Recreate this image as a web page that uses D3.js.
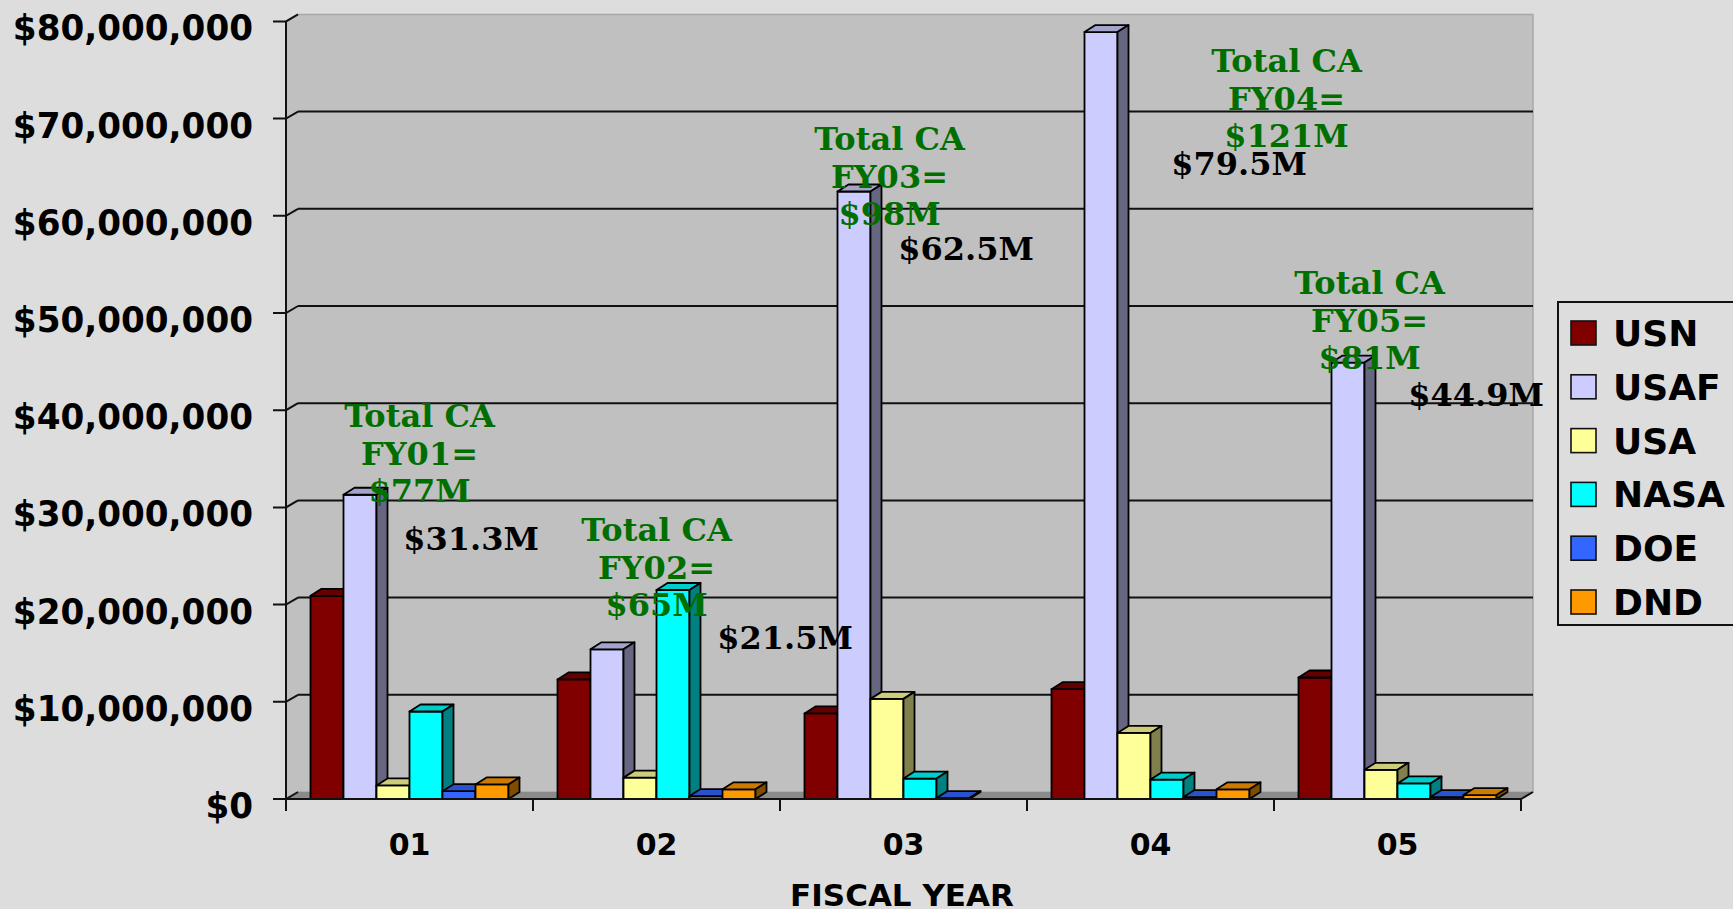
<!DOCTYPE html>
<html>
<head>
<meta charset="utf-8">
<script src="https://cdnjs.cloudflare.com/ajax/libs/d3/7.8.5/d3.min.js"></script>
<style>
	html, body { margin: 0; padding: 0; background: #dddddd; overflow: hidden; }
</style>
</head>
<body>
<svg class="chart" width="1733" height="909"></svg>
<script>
// data, dollars in millions
var years = [ "01", "02", "03", "04", "05" ];
var agencies = [ "USN", "USAF", "USA", "NASA", "DOE", "DND" ];
var usn  = [ 20.9, 12.3,  8.8, 11.3, 12.5 ];
var usaf = [ 31.3, 15.4, 62.5, 78.9, 44.9 ];
var usa  = [  1.4,  2.2, 10.3,  6.8,  3.0 ];
var nasa = [  9.0, 21.5,  2.1,  2.0,  1.6 ];
var doe  = [  0.8,  0.3,  0.1,  0.2,  0.2 ];
var dnd  = [  1.5,  1.0,  0.0,  1.0,  0.4 ];
var yTicks = [ 0, 10, 20, 30, 40, 50, 60, 70, 80 ];
var totals = [ "$77M", "$65M", "$98M", "$121M", "$81M" ];
var peaks = [ "$31.3M", "$21.5M", "$62.5M", "$79.5M", "$44.9M" ];

var seriesValues = [ usn, usaf, usa, nasa, doe, dnd ];

// face colours: front, top, side
var colorFront = [ "#800000", "#ccccff", "#ffff99", "#00ffff", "#3366ff", "#ff9900" ];
var colorTop   = [ "#650000", "#a3a3cc", "#cccc7a", "#00cccc", "#2952cc", "#cc7a00" ];
var colorSide  = [ "#400000", "#666680", "#80804d", "#008080", "#1a3380", "#804d00" ];

// where the free text boxes sit, offsets from the band centre
var noteDx = [ 10, 0, -14, 136, -28 ];
var noteY  = [ 427, 541, 150, 72, 294 ];
var peakX  = [ 471, 785, 966, 1239, 1476 ];
var peakY  = [ 550, 649, 260, 175, 406 ];

var svg = d3.select( ".chart" );

var plotLeft = 286, plotRight = 1521, plotBase = 799, plotTop = 21.4;
var wallDx = 12, wallDy = 7;
var barDx = 11, barDy = 7;

var x = d3.scaleBand()
	.domain( years )
	.range( [ plotLeft, plotRight ] );

var xInner = d3.scaleBand()
	.domain( agencies )
	.range( [ 24.5, x.bandwidth() - 24.5 ] );

var y = d3.scaleLinear()
	.domain( [ 0, 80 ] )
	.range( [ plotBase, plotTop ] );

// back wall and left wall
svg.append( "polygon" )
	.attr( "points", [ [ plotLeft, plotBase ], [ plotLeft, plotTop ], [ plotLeft + wallDx, plotTop - wallDy ],
		[ plotRight + wallDx, plotTop - wallDy ], [ plotRight + wallDx, plotBase - wallDy ], [ plotLeft + wallDx, plotBase - wallDy ] ].join( " " ) )
	.style( "fill", "#c0c0c0" )
	.style( "stroke", "#a8a8a8" )
	.style( "stroke-width", 1.5 );

// floor
svg.append( "polygon" )
	.attr( "points", [ [ plotLeft, plotBase ], [ plotLeft + wallDx, plotBase - wallDy ], [ plotRight + wallDx, plotBase - wallDy ], [ plotRight, plotBase ] ].join( " " ) )
	.style( "fill", "#8a8a8a" );

// gridlines on the back wall
svg.append( "g" )
	.attr( "class", "grid" )
	.selectAll( "line" )
	.data( yTicks.filter( function( d ) { return d > 0 && d < 80; } ) )
	.enter()
	.append( "line" )
		.attr( "x1", plotLeft + wallDx )
		.attr( "x2", plotRight + wallDx )
		.attr( "y1", function( d ) { return y( d ) - wallDy; } )
		.attr( "y2", function( d ) { return y( d ) - wallDy; } )
		.style( "stroke", "#111" )
		.style( "stroke-width", 2 );

// y axis with the little 3d kink on every tick
var yAxis = svg.append( "g" ).attr( "class", "y-axis" );

yAxis.append( "line" )
	.attr( "x1", plotLeft ).attr( "x2", plotLeft )
	.attr( "y1", plotTop ).attr( "y2", plotBase + 12 )
	.style( "stroke", "#111" ).style( "stroke-width", 2 );

yAxis.selectAll( ".tick" )
	.data( yTicks )
	.enter()
	.append( "path" )
		.attr( "class", "tick" )
		.attr( "d", function( d ) {
			return "M" + ( plotLeft - 13 ) + "," + y( d ) + "H" + plotLeft + "L" + ( plotLeft + wallDx ) + "," + ( y( d ) - wallDy );
		} )
		.style( "fill", "none" )
		.style( "stroke", "#111" )
		.style( "stroke-width", 2 );

yAxis.selectAll( "text" )
	.data( yTicks )
	.enter()
	.append( "text" )
		.attr( "x", 253 )
		.attr( "y", function( d ) { return y( d ) + 19; } )
		.attr( "text-anchor", "end" )
		.style( "font-family", "DejaVu Sans" )
		.style( "font-weight", "bold" )
		.style( "font-size", "36px" )
		.text( function( d ) { return "$" + d3.format( "," )( d * 1e6 ); } )
		.each( function() {
			// the original face is a little narrower than DejaVu
			var len = this.getComputedTextLength();
			d3.select( this )
				.attr( "textLength", len * 0.95 )
				.attr( "lengthAdjust", "spacingAndGlyphs" );
		} );

// bars, left to right so each front face hides the side before it
var bars = svg.append( "g" ).attr( "class", "bars" );

years.forEach( function( year, i ) {
	agencies.forEach( function( name, j ) {
		var v = seriesValues[ j ][ i ];
		if ( v <= 0 ) return;
		var x0 = x( year ) + xInner( name ),
			x1 = x0 + xInner.bandwidth(),
			y0 = y( v );
		var g = bars.append( "g" )
			.style( "stroke", "#000" )
			.style( "stroke-width", 1.8 )
			.style( "stroke-linejoin", "round" );
		g.append( "rect" )
			.attr( "x", x0 )
			.attr( "y", y0 )
			.attr( "width", x1 - x0 )
			.attr( "height", plotBase - y0 )
			.style( "fill", colorFront[ j ] );
		g.append( "polygon" )
			.attr( "points", [ [ x0, y0 ], [ x0 + barDx, y0 - barDy ], [ x1 + barDx, y0 - barDy ], [ x1, y0 ] ].join( " " ) )
			.style( "fill", colorTop[ j ] );
		g.append( "polygon" )
			.attr( "points", [ [ x1, y0 ], [ x1 + barDx, y0 - barDy ], [ x1 + barDx, plotBase - barDy ], [ x1, plotBase ] ].join( " " ) )
			.style( "fill", colorSide[ j ] );
	} );
} );

// x axis
var xAxis = svg.append( "g" ).attr( "class", "x-axis" );

xAxis.append( "path" )
	.attr( "d", "M" + plotLeft + "," + plotBase + "H" + plotRight + "L" + ( plotRight + wallDx ) + "," + ( plotBase - wallDy ) )
	.style( "fill", "none" )
	.style( "stroke", "#111" )
	.style( "stroke-width", 2 );

xAxis.selectAll( ".tick" )
	.data( years.concat( [ "end" ] ) )
	.enter()
	.append( "line" )
		.attr( "class", "tick" )
		.attr( "x1", function( d, i ) { return plotLeft + i * x.step(); } )
		.attr( "x2", function( d, i ) { return plotLeft + i * x.step(); } )
		.attr( "y1", plotBase )
		.attr( "y2", plotBase + 12 )
		.style( "stroke", "#111" )
		.style( "stroke-width", 2 );

xAxis.selectAll( "text" )
	.data( years )
	.enter()
	.append( "text" )
		.attr( "x", function( d ) { return x( d ) + x.bandwidth() / 2; } )
		.attr( "y", 855 )
		.attr( "text-anchor", "middle" )
		.style( "font-family", "DejaVu Sans" )
		.style( "font-weight", "bold" )
		.style( "font-size", "30px" )
		.text( function( d ) { return d; } );

svg.append( "text" )
	.attr( "x", 902 )
	.attr( "y", 906 )
	.attr( "text-anchor", "middle" )
	.style( "font-family", "DejaVu Sans" )
	.style( "font-weight", "bold" )
	.style( "font-size", "31px" )
	.text( "FISCAL YEAR" );

// green total boxes
var notes = svg.append( "g" ).attr( "class", "notes" );

years.forEach( function( year, i ) {
	var cx = x( year ) + x.bandwidth() / 2 + noteDx[ i ];
	var t = notes.append( "text" )
		.attr( "text-anchor", "middle" )
		.style( "font-family", "DejaVu Serif" )
		.style( "font-weight", "bold" )
		.style( "font-size", "32px" )
		.style( "fill", "#006f00" );
	[ "Total CA", "FY" + year + "=", totals[ i ] ].forEach( function( line, k ) {
		t.append( "tspan" )
			.attr( "x", cx )
			.attr( "y", noteY[ i ] + k * 37.5 )
			.text( line );
	} );
	notes.append( "text" )
		.attr( "x", peakX[ i ] )
		.attr( "y", peakY[ i ] )
		.attr( "text-anchor", "middle" )
		.style( "font-family", "DejaVu Serif" )
		.style( "font-weight", "bold" )
		.style( "font-size", "32px" )
		.style( "fill", "#000" )
		.text( peaks[ i ] );
} );

// legenda
var legend = svg.append( "g" ).attr( "class", "legenda" );

legend.append( "rect" )
	.attr( "x", 1558 )
	.attr( "y", 302 )
	.attr( "width", 200 )
	.attr( "height", 323 )
	.style( "fill", "#dddddd" )
	.style( "stroke", "#111" )
	.style( "stroke-width", 2 );

for ( var p = 0; p < agencies.length; p++ ) {
	var cy = 333 + p * 53.8;
	legend.append( "rect" )
		.attr( "x", 1571 )
		.attr( "y", cy - 12 )
		.attr( "width", 25 )
		.attr( "height", 24 )
		.style( "fill", colorFront[ p ] )
		.style( "stroke", "#111" )
		.style( "stroke-width", 1.6 );
	legend.append( "text" )
		.attr( "x", 1613 )
		.attr( "y", cy + 13 )
		.style( "font-family", "DejaVu Sans" )
		.style( "font-weight", "bold" )
		.style( "font-size", "36px" )
		.text( agencies[ p ] );
}
</script>
</body>
</html>
